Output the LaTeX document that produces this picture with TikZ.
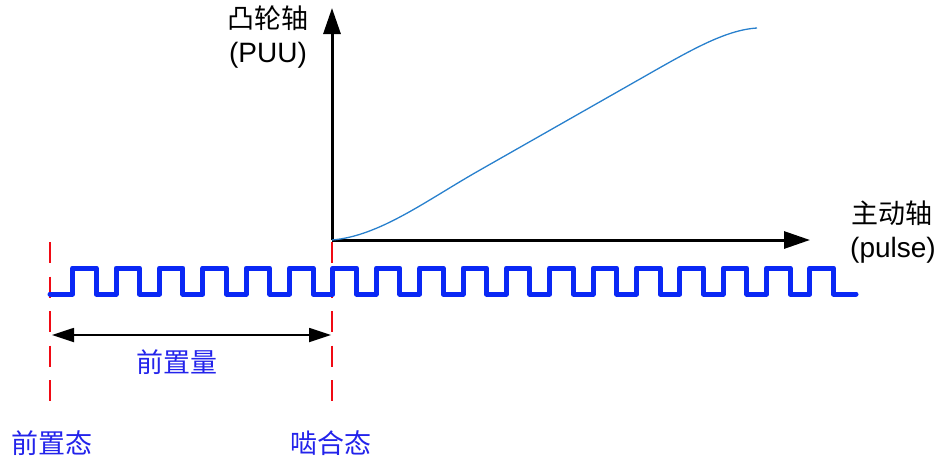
\documentclass[tikz,border=0pt]{standalone}
\usepackage{fontspec}
\setmainfont{Liberation Sans}
\newfontfamily\cjk{Noto Sans CJK SC}
\usetikzlibrary{arrows.meta}
\definecolor{pulseblue}{RGB}{10,40,245}
\definecolor{textblue}{RGB}{35,35,235}
\definecolor{curveblue}{RGB}{40,128,205}
\definecolor{dashred}{RGB}{240,10,20}
\tikzset{
  axis/.style={line width=3pt,-{Triangle[length=26pt,width=17pt]}},
  measure/.style={line width=1.8pt,{Triangle[length=22pt,width=14pt]}-{Triangle[length=22pt,width=14pt]}},
  marker/.style={dashred,line width=2.8pt,dash pattern=on 21pt off 13.5pt},
  pulse/.style={pulseblue,line width=5pt,line join=round,line cap=round},
  curve/.style={curveblue,line width=1.3pt},
  lab/.style={inner sep=0pt,font=\fontsize{28}{31}\selectfont},
  cjklab/.style={inner sep=0pt,font=\cjk\fontsize{27}{30}\selectfont},
  bluelab/.style={cjklab,text=textblue}
}
\begin{document}
\begin{tikzpicture}[x=1pt,y=-1pt]
\useasboundingbox (0,0) rectangle (940,461);
% coordinates
\coordinate (O) at (332,240);
\coordinate (Ytop) at (332,8);
\coordinate (Xend) at (810,240);
\coordinate (L1top) at (50,242);
\coordinate (L1bot) at (50,403);
\coordinate (L2top) at (332,242);
\coordinate (L2bot) at (332,403);
\coordinate (MA) at (52,335);
\coordinate (MB) at (331,335);
\coordinate (C1) at (480,170);
\coordinate (C2) at (640,79);
\coordinate (Cend) at (757,28);
% red dashed markers
\draw[marker] (L1top) -- (L1bot);
\draw[marker] (L2top) -- (L2bot);
% pulse train
\draw[pulse] (50,294)
  \foreach \k in {0,...,17}{
    -- ({72.7+43.37*\k},294) -- ({72.7+43.37*\k},268)
    -- ({96.2+43.37*\k},268) -- ({96.2+43.37*\k},294)}
  -- (856,294);
% axes
\draw[axis] (O) -- (Ytop);
\draw[axis] (O) -- (Xend);
% curve
\draw[curve] (O) .. controls (380,236) and (427,200) .. (C1) -- (C2)
  .. controls (690,50.5) and (725,30) .. (Cend);
% measure arrow
\draw[measure] (MA) -- (MB);
% labels
\node[cjklab] (ylab) at (268,18) {凸轮轴};
\node[lab] (yunit) at (268,55) {(PUU)};
\node[cjklab] (xlab) at (892,213) {主动轴};
\node[lab] (xunit) at (893,250) {(pulse)};
\node[bluelab] (qzl) at (177,362) {前置量};
\node[bluelab] (qzt) at (52,443) {前置态};
\node[bluelab] (nht) at (331,443) {啮合态};
\end{tikzpicture}
\end{document}
